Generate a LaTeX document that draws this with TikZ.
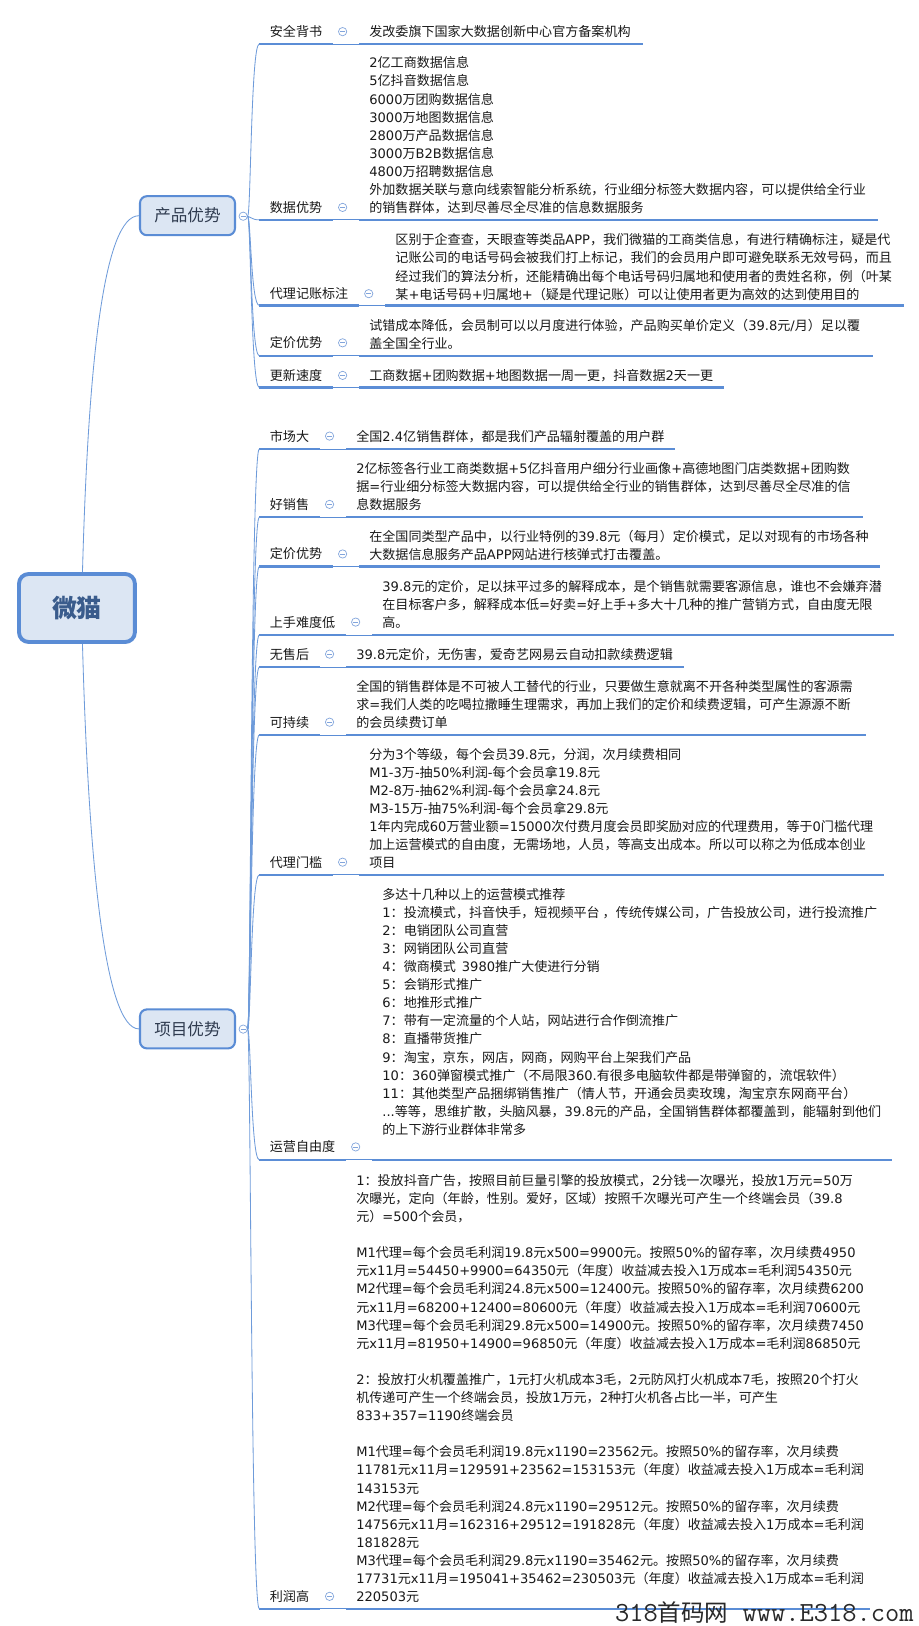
\documentclass[tikz,border=0pt]{standalone}
\usepackage{fontspec}
\setmainfont{Noto Sans CJK SC}
\newfontfamily\cjkfam{Noto Sans CJK SC}
\newfontfamily\latfam{DejaVu Sans}
\newcount\mmi
\mmi="4E00 \loop \XeTeXcharclass\mmi=1 \ifnum\mmi<"9FFF \advance\mmi by 1 \repeat
\mmi="3000 \loop \XeTeXcharclass\mmi=1 \ifnum\mmi<"303F \advance\mmi by 1 \repeat
\mmi="FF00 \loop \XeTeXcharclass\mmi=1 \ifnum\mmi<"FFEF \advance\mmi by 1 \repeat
\XeTeXinterchartokenstate=1
\XeTeXinterchartoks 0 1 = {\cjkfam}
\XeTeXinterchartoks 4095 1 = {\cjkfam}
\XeTeXinterchartoks 1 0 = {\latfam}
\XeTeXinterchartoks 4095 0 = {\latfam}
\newcommand\dtfont{\fontsize{9.45pt}{13.09pt}\selectfont}
\definecolor{ulblue}{RGB}{91,141,214}
\definecolor{connblue}{RGB}{110,155,218}
\definecolor{mcblue}{RGB}{130,165,220}
\definecolor{boxblue}{RGB}{90,140,213}
\definecolor{boxfill}{RGB}{220,230,243}
\definecolor{roottxt}{RGB}{58,92,140}
\definecolor{branchtxt}{RGB}{47,59,79}
\definecolor{txt}{RGB}{25,25,25}
\definecolor{wmgray}{RGB}{40,40,40}
% #1 name, #2 label, #3 label y, #4 circle x, #5 underline y, #6 end x,
% #7 first detail line y, #8 detail text, #9 parent circle
\newcommand\mmrow[9]{%
  \node[lbl] (#1l) at (260,#3+4.8) {#2};
  \node[mc] (#1c) at (#4,#3) {};
  \coordinate (#1s) at (250,#5);
  \coordinate (#1a) at (#4-9,#5);
  \coordinate (#1b) at (#4+16,#5);
  \coordinate (#1e) at (#6,#5);
  \draw[thk] (#1s) -- (#1a);
  \draw[thn] (#1a) -- (#1b);
  \draw[thk] (#1b) -- (#1e);
  \node[dtl] (#1d) at (#4+25.5,#7-8.53) {\rule{0pt}{10pt}#8};
  \draw[conn] (#9.east) .. controls +(3,0) and +(-8,0) .. (#1s);
}
\begin{document}
\begin{tikzpicture}[x=0.75pt,y=-0.75pt,
  lbl/.style={anchor=base west, inner sep=0, font=\dtfont, text=txt},
  dtl/.style={anchor=north west, inner sep=0, align=left, font=\dtfont, text=txt},
  mc/.style={circle, draw=mcblue, line width=0.5pt, inner sep=0, minimum size=6pt,
    path picture={\draw[mcblue, line width=0.6pt] ([xshift=-1.8pt]path picture bounding box.center) -- ([xshift=1.8pt]path picture bounding box.center);}},
  thk/.style={draw=ulblue, line width=1.7pt},
  thn/.style={draw=ulblue, line width=0.6pt},
  conn/.style={draw=connblue, line width=0.6pt},
  branch/.style={draw=boxblue, line width=1.5pt, fill=boxfill, rounded corners=5pt,
    minimum width=68.7pt, minimum height=28.2pt, inner sep=0,
    font=\fontsize{12pt}{14pt}\selectfont, text=branchtxt},
  rootbox/.style={draw=boxblue, line width=2.8pt, fill=boxfill, rounded corners=7pt,
    minimum width=83.8pt, minimum height=49.2pt, inner sep=0,
    font=\fontsize{18pt}{20pt}\selectfont\bfseries, text=roottxt},
]
\fill[white] (0,0) rectangle (886,1568);
\useasboundingbox (0,0) rectangle (886,1568);

% root and branches
\node[rootbox] (root) at (74.2,586.3) {微猫};
\node[branch] (pa) at (180.8,208) {产品优势};
\node[branch] (pb) at (180.8,992.2) {项目优势};
\node[mc] (pac) at (234.5,208.5) {};
\node[mc] (pbc) at (234.5,992.4) {};
\draw[conn] ([xshift=4pt]root.north) .. controls (85,350) and (100,208) .. (pa.west);
\draw[conn] ([xshift=4pt]root.south) .. controls (85,821) and (100,992.2) .. (pb.west);

% group A
\mmrow{a1}{安全背书}{30.5}{330.4}{42.4}{620}{30.5}{发改委旗下国家大数据创新中心官方备案机构}{pac}
\mmrow{a2}{数据优势}{200}{330.4}{212}{847}{60.4}{2亿工商数据信息\\5亿抖音数据信息\\6000万团购数据信息\\3000万地图数据信息\\2800万产品数据信息\\3000万B2B数据信息\\4800万招聘数据信息\\外加数据关联与意向线索智能分析系统，行业细分标签大数据内容，可以提供给全行业\\的销售群体，达到尽善尽全尽准的信息数据服务}{pac}
\mmrow{a3}{代理记账标注}{283.2}{355.6}{294.5}{872}{231}{区别于企查查，天眼查等类品APP，我们微猫的工商类信息，有进行精确标注，疑是代\\记账公司的电话号码会被我们打上标记，我们的会员用户即可避免联系无效号码，而且\\经过我们的算法分析，还能精确出每个电话号码归属地和使用者的贵姓名称，例（叶某\\某+电话号码+归属地+（疑是代理记账）可以让使用者更为高效的达到使用目的}{pac}
\mmrow{a4}{定价优势}{330.6}{330.4}{343}{842}{313.2}{试错成本降低，会员制可以以月度进行体验，产品购买单价定义（39.8元/月）足以覆\\盖全国全行业。}{pac}
\mmrow{a5}{更新速度}{362}{330.4}{373.7}{698}{362}{工商数据+团购数据+地图数据一周一更，抖音数据2天一更}{pac}

% group B
\mmrow{b1}{市场大}{420.5}{317.8}{433}{651}{420.5}{全国2.4亿销售群体，都是我们产品辐射覆盖的用户群}{pbc}
\mmrow{b2}{好销售}{486.4}{317.8}{498.8}{832}{451.5}{2亿标签各行业工商类数据+5亿抖音用户细分行业画像+高德地图门店类数据+团购数\\据=行业细分标签大数据内容，可以提供给全行业的销售群体，达到尽善尽全尽准的信\\息数据服务}{pbc}
\mmrow{b3}{定价优势}{534.2}{330.4}{546.4}{849}{516.8}{在全国同类型产品中，以行业特例的39.8元（每月）定价模式，足以对现有的市场各种\\大数据信息服务产品APP网站进行核弹式打击覆盖。}{pbc}
\mmrow{b4}{上手难度低}{599.9}{343}{612.3}{862}{565}{39.8元的定价，足以抹平过多的解释成本，是个销售就需要客源信息，谁也不会嫌弃潜\\在目标客户多，解释成本低=好卖=好上手+多大十几种的推广营销方式，自由度无限\\高。}{pbc}
\mmrow{b5}{无售后}{630.8}{317.8}{643.4}{660}{630.8}{39.8元定价，无伤害，爱奇艺网易云自动扣款续费逻辑}{pbc}
\mmrow{b6}{可持续}{696.4}{317.8}{708.7}{835}{661.5}{全国的销售群体是不可被人工替代的行业，只要做生意就离不开各种类型属性的客源需\\求=我们人类的吃喝拉撒睡生理需求，再加上我们的定价和续费逻辑，可产生源源不断\\的会员续费订单}{pbc}
\mmrow{b7}{代理门槛}{831.4}{330.4}{843.6}{852}{727}{分为3个等级，每个会员39.8元，分润，次月续费相同\\M1-3万-抽50\%利润-每个会员拿19.8元\\M2-8万-抽62\%利润-每个会员拿24.8元\\M3-15万-抽75\%利润-每个会员拿29.8元\\1年内完成60万营业额=15000次付费月度会员即奖励对应的代理费用，等于0门槛代理\\加上运营模式的自由度，无需场地，人员，等高支出成本。所以可以称之为低成本创业\\项目}{pbc}
\mmrow{b8}{运营自由度}{1106}{343}{1118.4}{860}{862}{多达十几种以上的运营模式推荐\\1：投流模式，抖音快手，短视频平台~，传统传媒公司，广告投放公司，进行投流推广\\2：电销团队公司直营\\3：网销团队公司直营\\4：微商模式~~3980推广大使进行分销\\5：会销形式推广\\6：地推形式推广\\7：带有一定流量的个人站，网站进行合作倒流推广\\8：直播带货推广\\9：淘宝，京东，网店，网商，网购平台上架我们产品\\10：360弹窗模式推广（不局限360.有很多电脑软件都是带弹窗的，流氓软件）\\11：其他类型产品捆绑销售推广（情人节，开通会员卖玫瑰，淘宝京东网商平台）\\...等等，思维扩散，头脑风暴，39.8元的产品，全国销售群体都覆盖到，能辐射到他们\\的上下游行业群体非常多}{pbc}
\mmrow{b9}{利润高}{1539.4}{317.8}{1551.3}{839}{1138}{1：投放抖音广告，按照目前巨量引擎的投放模式，2分钱一次曝光，投放1万元=50万\\次曝光，定向（年龄，性别。爱好，区域）按照千次曝光可产生一个终端会员（39.8\\元）=500个会员，\\\mbox{}\\M1代理=每个会员毛利润19.8元x500=9900元。按照50\%的留存率，次月续费4950\\元x11月=54450+9900=64350元（年度）收益减去投入1万成本=毛利润54350元\\M2代理=每个会员毛利润24.8元x500=12400元。按照50\%的留存率，次月续费6200\\元x11月=68200+12400=80600元（年度）收益减去投入1万成本=毛利润70600元\\M3代理=每个会员毛利润29.8元x500=14900元。按照50\%的留存率，次月续费7450\\元x11月=81950+14900=96850元（年度）收益减去投入1万成本=毛利润86850元\\\mbox{}\\2：投放打火机覆盖推广，1元打火机成本3毛，2元防风打火机成本7毛，按照20个打火\\机传递可产生一个终端会员，投放1万元，2种打火机各占比一半，可产生\\833+357=1190终端会员\\\mbox{}\\M1代理=每个会员毛利润19.8元x1190=23562元。按照50\%的留存率，次月续费\\11781元x11月=129591+23562=153153元（年度）收益减去投入1万成本=毛利润\\143153元\\M2代理=每个会员毛利润24.8元x1190=29512元。按照50\%的留存率，次月续费\\14756元x11月=162316+29512=191828元（年度）收益减去投入1万成本=毛利润\\181828元\\M3代理=每个会员毛利润29.8元x1190=35462元。按照50\%的留存率，次月续费\\17731元x11月=195041+35462=230503元（年度）收益减去投入1万成本=毛利润\\220503元}{pbc}

% watermark
\node[anchor=west, inner sep=0, text=wmgray] (wm) at (593,1555) {\XeTeXinterchartokenstate=0 {\fontsize{20pt}{22pt}\selectfont\ttfamily 318}{\fontsize{17pt}{19pt}\selectfont\cjkfam 首码网}{\fontsize{20pt}{22pt}\selectfont\ttfamily\ www.E318.com}};
\end{tikzpicture}
\end{document}
